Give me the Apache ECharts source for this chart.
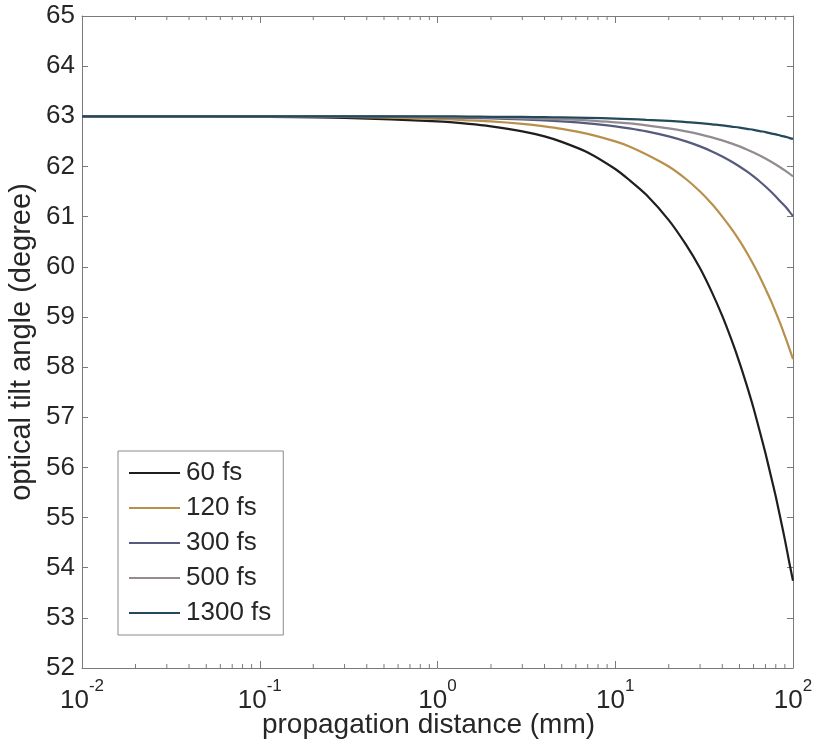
<!DOCTYPE html>
<html>
<head>
<meta charset="utf-8">
<script src="https://cdn.jsdelivr.net/npm/echarts@6/dist/echarts.min.js"></script>
<style>html,body{margin:0;padding:0;background:#fff}#c{width:816px;height:745px}</style>
</head>
<body>
<div id="c"></div>
<script>
// propagation distance (mm)
var distances = [0.01, 0.03, 0.1, 0.3, 1, 1.5, 2, 3, 4, 5, 7, 10, 12, 15, 20, 25, 30, 35, 40, 45, 50, 55, 60, 65, 70, 75, 80, 85, 90, 95, 100];
var tilt60   = [63.0, 63.0, 62.99, 62.97, 62.9, 62.85, 62.8, 62.7, 62.6, 62.49, 62.28, 61.95, 61.73, 61.43, 60.93, 60.44, 59.97, 59.49, 59.02, 58.55, 58.09, 57.63, 57.18, 56.72, 56.28, 55.84, 55.42, 54.98, 54.56, 54.13, 53.74];
var tilt120  = [63.0, 63.0, 63.0, 62.99, 62.95, 62.92, 62.9, 62.85, 62.8, 62.75, 62.65, 62.5, 62.4, 62.24, 62.0, 61.75, 61.5, 61.25, 61.0, 60.76, 60.52, 60.28, 60.04, 59.8, 59.56, 59.33, 59.09, 58.86, 58.62, 58.39, 58.16];
var tilt300  = [63.0, 63.0, 63.0, 63.0, 62.98, 62.97, 62.96, 62.94, 62.92, 62.9, 62.86, 62.8, 62.76, 62.7, 62.6, 62.5, 62.4, 62.3, 62.2, 62.1, 62.0, 61.9, 61.8, 61.7, 61.6, 61.5, 61.4, 61.3, 61.21, 61.11, 61.01];
var tilt500  = [63.0, 63.0, 63.0, 63.0, 62.99, 62.985, 62.98, 62.96, 62.95, 62.94, 62.92, 62.88, 62.86, 62.82, 62.76, 62.7, 62.64, 62.58, 62.52, 62.46, 62.4, 62.34, 62.28, 62.22, 62.16, 62.1, 62.04, 61.98, 61.92, 61.86, 61.8];
var tilt1300 = [63.0, 63.0, 63.0, 63.0, 63.0, 62.995, 62.99, 62.987, 62.983, 62.98, 62.97, 62.955, 62.945, 62.93, 62.91, 62.885, 62.865, 62.84, 62.82, 62.795, 62.775, 62.75, 62.73, 62.705, 62.685, 62.66, 62.64, 62.615, 62.595, 62.57, 62.55];
var seriesNames = ['60 fs', '120 fs', '300 fs', '500 fs', '1300 fs'];
var seriesColors = ['#1e1e1e', '#b8904c', '#555a7e', '#928c92', '#24495a'];
var minorTickValues = [0.02,0.03,0.04,0.05,0.06,0.07,0.08,0.09,0.2,0.3,0.4,0.5,0.6,0.7,0.8,0.9,2,3,4,5,6,7,8,9,20,30,40,50,60,70,80,90];
var xTickExponents = {'0.01':'-2','0.1':'-1','1':'0','10':'1','100':'2'};

var allTilts = [tilt60, tilt120, tilt300, tilt500, tilt1300];
var FONT = 'Liberation Sans, Arial, sans-serif';
var AX = '#7a7a7a';
var TXT = '#262626';

function pairs(ys){ return distances.map(function(d,i){ return [d, ys[i]]; }); }

var series = allTilts.map(function(ys, k){
  return {
    name: seriesNames[k], type: 'line', data: pairs(ys), smooth: 0.25,
    symbol: 'none', lineStyle: {color: seriesColors[k], width: 2.2},
    itemStyle: {color: seriesColors[k]}, z: 3 + k
  };
});

series.push({
  type: 'custom', xAxisIndex: 0, yAxisIndex: 0, silent: true, clip: false, z: 10,
  data: minorTickValues.map(function(v){ return [v, 52]; }),
  renderItem: function(params, api){
    var b = api.coord([api.value(0), 52]);
    var t = api.coord([api.value(0), 65]);
    return {type: 'group', children: [
      {type: 'line', shape: {x1: b[0], y1: b[1], x2: b[0], y2: b[1] - 4}, style: {stroke: AX, lineWidth: 1}},
      {type: 'line', shape: {x1: t[0], y1: t[1], x2: t[0], y2: t[1] + 4}, style: {stroke: AX, lineWidth: 1}}
    ]};
  }
});

var chart = echarts.init(document.getElementById('c'), null, {renderer: 'canvas'});
chart.setOption({
  animation: false,
  backgroundColor: '#fff',
  grid: {left: 82, right: 23, top: 16, bottom: 77, containLabel: false, outerBoundsMode: 'none'},
  legend: {
    orient: 'vertical', left: 118, top: 451,
    data: seriesNames.map(function(n, k){ return {name: n, icon: 'rect', itemStyle: {color: seriesColors[k]}}; }),
    itemWidth: 51, itemHeight: 2, itemGap: 9,
    padding: [9, 12, 9, 11],
    borderColor: '#8a8a8a', borderWidth: 1,
    textStyle: {fontFamily: FONT, fontSize: 26, color: TXT, padding: [0,0,0,1]}
  },
  xAxis: [{
    type: 'log', logBase: 10, min: 0.01, max: 100,
    name: 'propagation distance (mm)', nameLocation: 'middle', nameGap: 43, nameMoveOverlap: false,
    nameTextStyle: {fontFamily: FONT, fontSize: 28, color: TXT, padding: [0, 18, 0, 0]},
    axisLine: {lineStyle: {color: AX, width: 1}},
    axisTick: {inside: true, length: 7, lineStyle: {color: AX}},
    splitLine: {show: false},
    axisLabel: {
      margin: 10, color: TXT,
      formatter: function(v){
        var key = String(+v.toPrecision(6));
        var e = xTickExponents[key];
        return '{b|10}{s|' + (e === undefined ? '' : e) + '}';
      },
      rich: {
        b: {fontFamily: FONT, fontSize: 26, color: TXT, padding: [10,0,0,0]},
        s: {fontFamily: FONT, fontSize: 17, color: TXT, verticalAlign: 'top'}
      }
    }
  }, {
    type: 'log', logBase: 10, min: 0.01, max: 100, position: 'top',
    axisLine: {show: true, lineStyle: {color: AX, width: 1}},
    axisTick: {inside: true, length: 7, lineStyle: {color: AX}},
    axisLabel: {show: false}, splitLine: {show: false}
  }],
  yAxis: [{
    type: 'value', min: 52, max: 65, interval: 1,
    name: 'optical tilt angle (degree)', nameLocation: 'middle', nameGap: 46, nameMoveOverlap: false,
    nameTextStyle: {fontFamily: FONT, fontSize: 29, color: TXT},
    axisLine: {show: true, lineStyle: {color: AX, width: 1}},
    axisTick: {inside: true, length: 6, lineStyle: {color: AX}},
    splitLine: {show: false},
    axisLabel: {margin: 7, fontFamily: FONT, fontSize: 26, color: TXT}
  }, {
    type: 'value', min: 52, max: 65, interval: 1, position: 'right',
    axisLine: {show: true, lineStyle: {color: AX, width: 1}},
    axisTick: {inside: true, length: 6, lineStyle: {color: AX}},
    axisLabel: {show: false}, splitLine: {show: false}
  }],
  series: series
});
</script>
</body>
</html>
